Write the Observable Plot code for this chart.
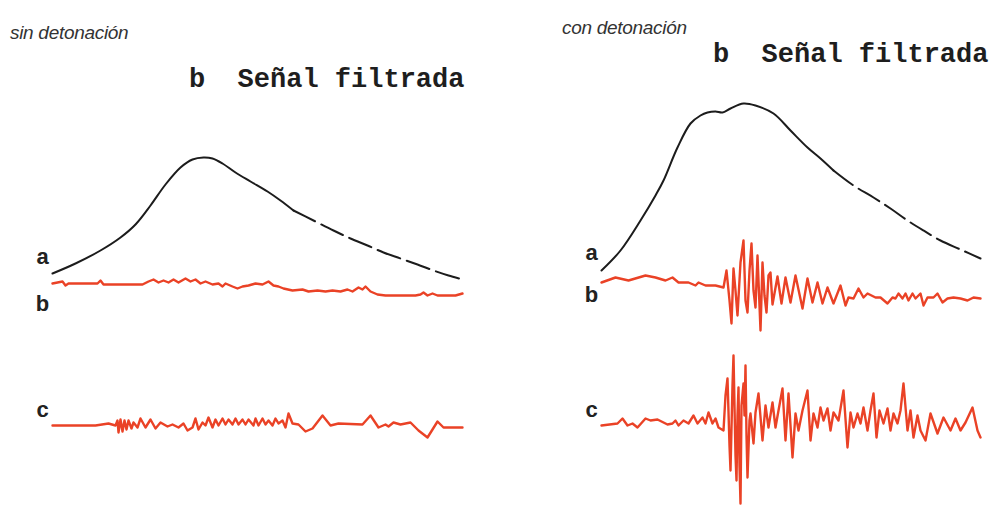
<!DOCTYPE html>
<html>
<head>
<meta charset="utf-8">
<script src="https://cdn.jsdelivr.net/npm/d3@7"></script>
<script src="https://cdn.jsdelivr.net/npm/@observablehq/plot@0.6"></script>
<style>
  html, body { margin: 0; padding: 0; background: #fff; }
  #wrap { position: relative; width: 993px; height: 505px; overflow: hidden; }
  #row { display: flex; }
  .cond { position: absolute; font-family: "Liberation Sans", Arial, sans-serif; font-style: italic; font-size: 19px; line-height: 19px; color: #333; letter-spacing: -0.3px; }
  .head { position: absolute; font-family: "Liberation Mono", "DejaVu Sans Mono", monospace; font-weight: bold; font-size: 27px; line-height: 27px; color: #1e1e1e; white-space: pre; }
</style>
</head>
<body>
<div id="wrap">
  <div id="row"></div>
</div>
<script>
// ---------- text ----------
const panelTitles = ["sin detonación", "con detonación"];
const panelHeading = "b  Señal filtrada";
const traceLabels = ["a", "b", "c"];

// ---------- data (time units, amplitude units) ----------
// a: pressure curve (upper half solid, tail dashed)
const pressureSin = [[0,12],[23,22],[48,35],[68,48],[83,61],[98,80],[113,101],[128,118],[140,126],[151,128],[160,127],[170,122],[183,113],[198,104],[215,94],[228,85],[241,75],[261,65],[281,55],[298,47],[315,40],[331,33],[348,27],[365,21],[381,15],[396,10],[410,6]];
const pressureCon = [[0,15],[19,35],[39,65],[54,90],[62,105],[76,138],[89,162],[99,170],[106,173],[114,174],[121,173],[129,177],[142,182],[154,180],[172,172],[189,155],[206,138],[219,127],[232,115],[252,100],[272,88],[289,77],[306,65],[322,55],[339,45],[359,36],[379,27]];
const solidUntilSin = 241;
const solidUntilCon = 232;

// b: filtered signal
const signalBSin = [[0,2],[10,4],[13,0],[16,2],[45,2],[48,5],[51,1],[90,1],[96,4],[101,6],[106,3],[111,5],[116,3],[121,6],[126,3],[133,7],[138,4],[143,6],[148,2],[153,4],[160,1],[166,2],[170,-1],[173,2],[180,-1],[185,-3],[190,-1],[196,0],[203,2],[210,1],[216,4],[221,0],[226,-1],[231,-3],[240,-5],[250,-4],[256,-6],[265,-5],[273,-6],[280,-5],[288,-6],[295,-4],[300,-6],[306,-2],[310,-4],[313,-1],[318,-6],[325,-9],[333,-10],[343,-10],[353,-10],[363,-10],[368,-9],[371,-7],[375,-10],[380,-8],[385,-10],[393,-10],[403,-10],[410,-8]];
const signalBCon = [[0,3],[14,8],[27,5],[44,10],[54,8],[64,5],[71,8],[77,3],[87,3],[94,0],[97,3],[104,0],[114,0],[122,-2],[125,15],[128,-15],[130,-38],[132,17],[134,-5],[136,-30],[139,23],[142,45],[144,-15],[146,-27],[148,15],[150,42],[152,-5],[154,-22],[156,30],[157,5],[159,-45],[161,23],[163,-10],[165,-27],[167,10],[169,13],[171,-19],[176,9],[180,-18],[184,8],[189,-17],[194,10],[201,-23],[206,7],[211,-17],[216,3],[221,-18],[226,-2],[232,-18],[239,0],[244,-20],[247,-12],[252,-13],[257,-3],[262,-12],[266,-8],[274,-12],[279,-12],[286,-18],[291,-12],[294,-13],[297,-8],[301,-13],[304,-8],[307,-15],[311,-8],[314,-13],[319,-8],[322,-20],[326,-12],[332,-12],[336,-8],[341,-17],[346,-13],[352,-12],[359,-13],[366,-15],[372,-12],[379,-13]];

// c: second filtered signal
const signalCSin = [[0,0],[43,0],[56,2],[63,0],[65,5],[66,-7],[68,6],[70,-6],[72,5],[74,-4],[76,5],[79,-3],[81,3],[85,-2],[88,7],[93,-2],[98,6],[103,-3],[108,3],[115,-1],[120,1],[126,-2],[131,2],[135,-5],[140,-2],[143,7],[146,-4],[150,3],[153,0],[156,8],[160,-2],[163,6],[166,0],[170,7],[173,1],[176,6],[180,1],[183,7],[186,1],[190,6],[193,1],[196,6],[201,0],[203,7],[206,0],[210,7],[213,1],[216,5],[220,0],[223,7],[226,2],[230,5],[233,-2],[236,12],[240,2],[246,1],[253,-6],[260,-3],[270,10],[278,0],[286,2],[310,1],[318,10],[326,-2],[333,1],[336,-1],[341,3],[348,1],[358,3],[366,-5],[375,-12],[385,4],[391,-2],[410,-2]];
const signalCCon = [[0,0],[16,2],[21,7],[26,0],[31,2],[36,-2],[44,7],[49,5],[56,6],[66,1],[71,2],[74,5],[77,0],[82,5],[87,2],[92,10],[96,2],[101,8],[104,2],[107,13],[111,2],[114,7],[117,-2],[122,-5],[124,30],[126,47],[128,-20],[129,-45],[131,40],[132,70],[134,-30],[135,-55],[136,10],[137,38],[138,-40],[139,-78],[140,20],[142,42],[143,10],[144,60],[145,-10],[146,-52],[148,5],[149,12],[152,-18],[154,13],[157,32],[161,-15],[164,20],[167,-2],[171,23],[174,-2],[177,15],[181,37],[184,-15],[187,32],[191,-32],[194,12],[197,-5],[201,15],[206,35],[209,-15],[212,12],[216,-2],[219,18],[222,5],[226,17],[229,-5],[232,13],[237,5],[242,35],[246,-22],[249,13],[252,-2],[256,12],[259,2],[262,18],[266,-5],[269,15],[272,32],[275,-12],[278,15],[282,2],[286,17],[289,-5],[292,12],[296,2],[299,15],[302,42],[306,-5],[309,15],[312,-12],[316,10],[319,-5],[324,-15],[329,12],[336,-8],[342,8],[349,-5],[354,7],[359,-5],[364,3],[371,18],[376,-5],[379,-12]];

const traceSpacing = 140; // amplitude units between trace b and trace c baselines

// ---------- drawing ----------
const ink = "#1c1c1c";
const red = "#ea4226";

function panel({pressure, solidUntil, sigB, sigC, width, marginLeft, marginRight, tMax, labelDy}) {
  const X = d => d[0];
  const first = arr => arr[0];
  const labels = [
    {name: traceLabels[0], t: first(pressure)[0], v: first(pressure)[1], dy: labelDy[0]},
    {name: traceLabels[1], t: first(sigB)[0], v: first(sigB)[1], dy: labelDy[1]},
    {name: traceLabels[2], t: first(sigC)[0], v: first(sigC)[1] - traceSpacing, dy: labelDy[2]}
  ];
  return Plot.plot({
    width, height: 505,
    marginTop: 0, marginBottom: 0, marginLeft, marginRight,
    x: {domain: [0, tMax], axis: null},
    y: {domain: [-220, 285], axis: null},
    marks: [
      Plot.line(pressure.filter(d => d[0] <= solidUntil), {x: X, y: d => d[1], stroke: ink, strokeWidth: 2, curve: "catmull-rom"}),
      Plot.line(pressure.filter(d => d[0] >= solidUntil), {x: X, y: d => d[1], stroke: ink, strokeWidth: 2, curve: "catmull-rom", strokeDasharray: "24,7"}),
      Plot.line(sigB, {x: X, y: d => d[1], stroke: red, strokeWidth: 2.4, strokeLinejoin: "round"}),
      Plot.line(sigC, {x: X, y: d => d[1] - traceSpacing, stroke: red, strokeWidth: 2.4, strokeLinejoin: "round"}),
      ...labels.map(l => Plot.text([l], {x: "t", y: "v", text: "name", dx: -10, dy: l.dy, textAnchor: "middle",
        fontFamily: "Liberation Sans, Arial, sans-serif", fontWeight: "bold", fontSize: 22, fill: "#222"}))
    ]
  });
}

const row = document.getElementById("row");
row.appendChild(panel({pressure: pressureSin, solidUntil: solidUntilSin, sigB: signalBSin, sigC: signalCSin,
  width: 496, marginLeft: 52, marginRight: 34, tMax: 410, labelDy: [-17, 20, -16]}));
row.appendChild(panel({pressure: pressureCon, solidUntil: solidUntilCon, sigB: signalBCon, sigC: signalCCon,
  width: 497, marginLeft: 105, marginRight: 13, tMax: 379, labelDy: [-18, 12, -16]}));

const wrap = document.getElementById("wrap");
function addText(cls, txt, left, top) {
  const d = document.createElement("div");
  d.className = cls; d.textContent = txt;
  d.style.left = left + "px"; d.style.top = top + "px";
  wrap.appendChild(d);
}
addText("cond", panelTitles[0], 10, 23);
addText("cond", panelTitles[1], 562, 18);
addText("head", panelHeading, 189, 67);
addText("head", panelHeading, 713, 42);
</script>
</body>
</html>
